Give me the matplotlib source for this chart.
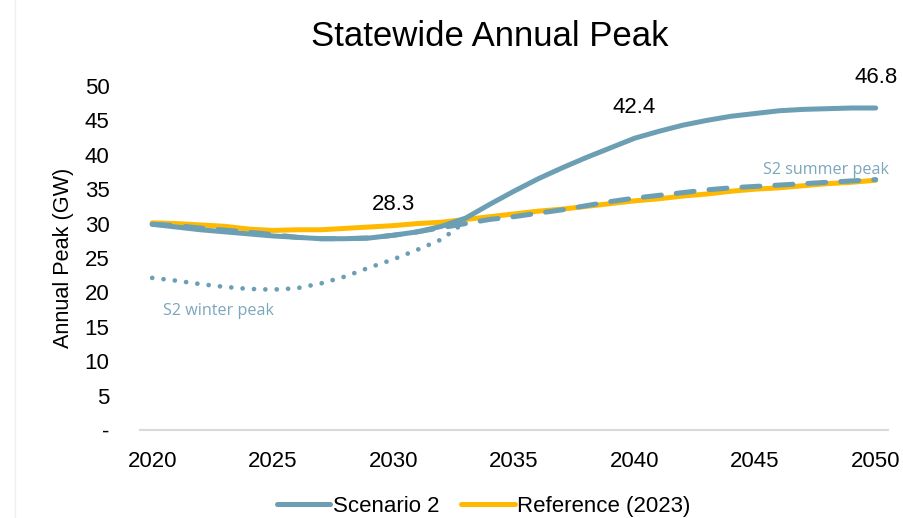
import matplotlib.pyplot as plt
from matplotlib.lines import Line2D

plt.rcParams['font.family'] = ['Liberation Sans', 'DejaVu Sans']

years = list(range(2020, 2051))

# annual peak, GW
scenario2 = [29.9, 29.5, 29.1, 28.8, 28.5, 28.2, 28.0, 27.8, 27.8, 27.9,
             28.3, 28.8, 29.6, 30.8, 32.8, 34.7, 36.5, 38.1, 39.6, 41.0,
             42.4, 43.4, 44.3, 45.0, 45.6, 46.0, 46.4, 46.6, 46.7, 46.8,
             46.8]
reference = [30.1, 30.0, 29.8, 29.6, 29.2, 29.0, 29.1, 29.1, 29.3, 29.5,
             29.7, 30.0, 30.2, 30.6, 31.0, 31.4, 31.8, 32.1, 32.5, 32.9,
             33.3, 33.6, 34.0, 34.3, 34.7, 35.0, 35.2, 35.5, 35.8, 36.0,
             36.3]
s2_summer = [29.9, 29.7, 29.35, 29.05, 28.75, 28.4, 28.0, 27.8, 27.8, 27.9,
             28.3, 28.8, 29.4, 30.0, 30.6, 31.0, 31.5, 32.0, 32.6, 33.2,
             33.7, 34.1, 34.5, 34.9, 35.2, 35.4, 35.6, 35.8, 36.0, 36.2,
             36.4]
winter_years = list(range(2020, 2034))
s2_winter = [22.1, 21.7, 21.2, 20.8, 20.5, 20.4, 20.6, 21.3, 22.3, 23.6,
             24.8, 26.2, 27.7, 30.3]

label_years = [2030, 2040, 2050]

yticks = [0, 5, 10, 15, 20, 25, 30, 35, 40, 45, 50]
ytick_labels = ['-'] + [str(v) for v in yticks[1:]]
xticks = [2020, 2025, 2030, 2035, 2040, 2045, 2050]

blue = '#6C9FB4'
gold = '#FFB900'

fig = plt.figure(figsize=(9.04, 5.18), dpi=100)
ax = fig.add_axes([0.155, 0.170, 0.827, 0.664])

ax.plot(years, reference, color=gold, lw=3.6, solid_capstyle='round', zorder=2)
ax.plot(years, s2_summer, color=blue, lw=3.6, ls=(0, (3.6, 3.0)),
        dash_capstyle='round', zorder=3)
ax.plot(years, scenario2, color=blue, lw=3.6, solid_capstyle='round', zorder=4)
ax.plot(winter_years, s2_winter, color=blue, lw=3.4, ls=(0, (0.01, 2.4)),
        dash_capstyle='round', zorder=4)

for yr in label_years:
    v = scenario2[years.index(yr)]
    ax.annotate(f'{v:.1f}', (yr, v), xytext=(0, 22), textcoords='offset points',
                ha='center', va='center', fontsize=16, annotation_clip=False)

ax.text(2020.45, 17.3, 'S2 winter peak', color='#7BA7BC', fontsize=11.6,
        family=['Open Sans', 'DejaVu Sans'], va='center')
ax.text(2050.55, 37.8, 'S2 summer peak', color='#7BA7BC', fontsize=11.6,
        family=['Open Sans', 'DejaVu Sans'], va='center', ha='right')

ax.set_xlim(2019.5, 2050.5)
ax.set_ylim(0, 50)
ax.set_xticks(xticks)
ax.set_yticks(yticks)
ax.set_yticklabels(ytick_labels)
ax.tick_params(axis='both', length=0, labelsize=16)
ax.tick_params(axis='y', pad=22)
ax.tick_params(axis='x', pad=15)
for s in ['top', 'right', 'left']:
    ax.spines[s].set_visible(False)
ax.spines['bottom'].set_color('#D9D9D9')
ax.spines['bottom'].set_linewidth(1.5)

ax.set_ylabel('Annual Peak (GW)', fontsize=15.6, labelpad=8)
fig.text(0.542, 0.929, 'Statewide Annual Peak', fontsize=25,
         ha='center', va='center')

handles = [Line2D([], [], color=blue, lw=3.6, solid_capstyle='round'),
           Line2D([], [], color=gold, lw=3.6, solid_capstyle='round')]
fig.legend(handles, ['Scenario 2', 'Reference (2023)'], loc='center',
           bbox_to_anchor=(0.535, 0.022), ncol=2, frameon=False, fontsize=16,
           handlelength=2.4, handletextpad=0.1, columnspacing=1.0)

fig.add_artist(Line2D([0.017, 0.017], [0, 1], color='#EEEEEE', lw=1,
                      transform=fig.transFigure))

fig.savefig('out.png', dpi=100)
